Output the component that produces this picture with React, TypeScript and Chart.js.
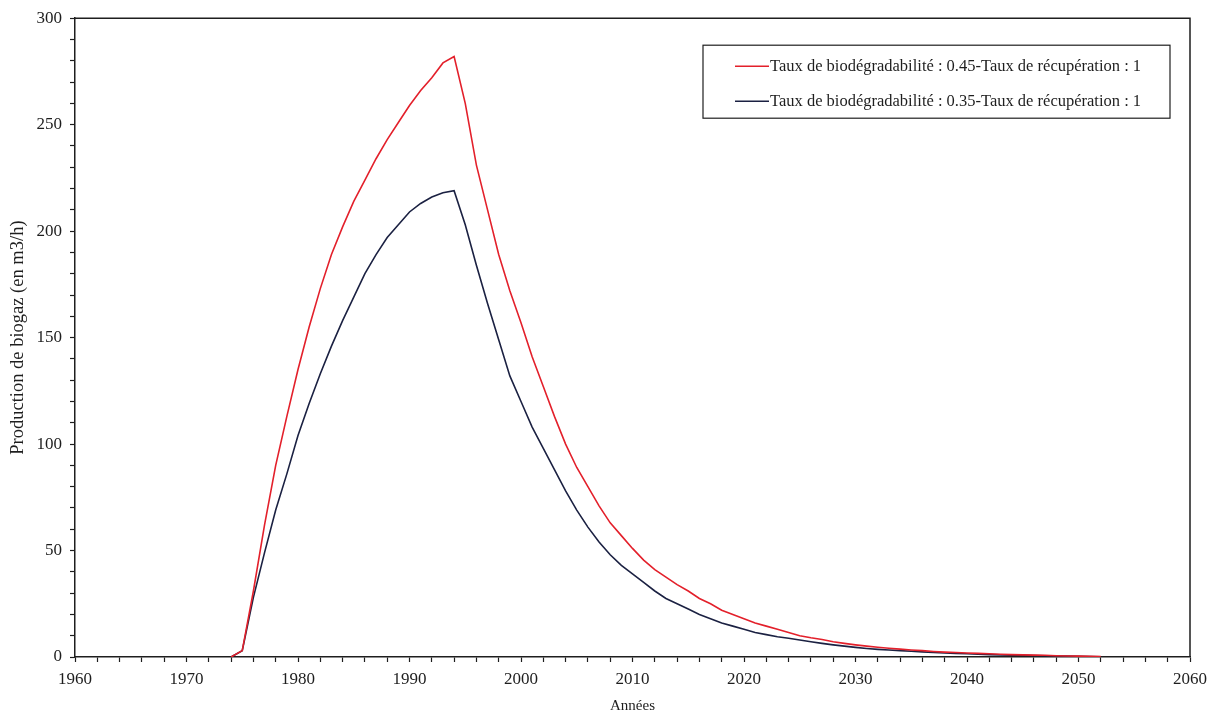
import React, { useEffect, useRef } from "react";
import { Chart, registerables } from "chart.js";

Chart.register(...registerables);

const years = [
  1974, 1975, 1976, 1977, 1978, 1979, 1980, 1981, 1982, 1983, 1984, 1985, 1986, 1987, 1988, 1989,
  1990, 1991, 1992, 1993, 1994, 1995, 1996, 1997, 1998, 1999, 2000, 2001, 2002, 2003, 2004, 2005,
  2006, 2007, 2008, 2009, 2010, 2011, 2012, 2013, 2014, 2015, 2016, 2017, 2018, 2019, 2020, 2021,
  2022, 2023, 2024, 2025, 2026, 2027, 2028, 2029, 2030, 2031, 2032, 2033, 2034, 2035, 2036, 2037,
  2038, 2039, 2040, 2041, 2042, 2043, 2044, 2045, 2046, 2047, 2048, 2049, 2050, 2051, 2052,
];

const labelRed = "Taux de biodégradabilité : 0.45-Taux de récupération : 1";
const labelBlue = "Taux de biodégradabilité : 0.35-Taux de récupération : 1";

const valuesRed = [
  0, 3, 31, 62, 90, 113, 135, 155, 173, 189, 202, 214, 224, 234, 243, 251,
  259, 266, 272, 279, 282, 260, 231, 210, 189, 172, 157, 141, 127, 113, 100, 89,
  80, 71, 63, 57, 51, 45.5, 41, 37.5, 34, 31, 27.5, 25, 22, 20, 18, 16,
  14.5, 13, 11.5, 10, 9, 8.2, 7.2, 6.4, 5.7, 5.1, 4.6, 4.1, 3.7, 3.3, 3.0, 2.6,
  2.3, 2.1, 1.9, 1.7, 1.5, 1.3, 1.1, 1.0, 0.9, 0.8, 0.6, 0.5, 0.4, 0.3, 0.2,
];

const valuesBlue = [
  0, 3, 28, 49, 69, 86, 104, 119, 133, 146, 158, 169, 180, 189, 197, 203,
  209, 213, 216, 218, 219, 203, 184, 166, 149, 132, 120, 108, 98, 88, 78, 69,
  61, 54, 48, 43, 39, 35, 31, 27.5, 25, 22.5, 20, 18, 16, 14.5, 13, 11.5,
  10.5, 9.5, 8.8, 8, 7.2, 6.4, 5.7, 5.1, 4.5, 4.0, 3.6, 3.3, 3.0, 2.7, 2.4, 2.1,
  1.9, 1.7, 1.5, 1.3, 1.1, 1.0, 0.9, 0.8, 0.7, 0.6, 0.5, 0.4, 0.3, 0.2, 0.1,
];

const xAxisTitle = "Années";
const yAxisTitle = "Production de biogaz (en m3/h)";
const xMin = 1960;
const xMax = 2060;
const yMin = 0;
const yMax = 300;

const INK = "#1e1e1e";
const RED = "#e3202b";
const NAVY = "#1b2142";
const FONT = "'Liberation Serif', 'Times New Roman', serif";

const framePlugin = {
  id: "frame",
  afterDraw(chart: any) {
    const { ctx, chartArea } = chart;
    ctx.save();
    ctx.strokeStyle = INK;
    ctx.lineWidth = 1.5;
    ctx.beginPath();
    ctx.moveTo(chartArea.left, chartArea.top);
    ctx.lineTo(chartArea.right, chartArea.top);
    ctx.lineTo(chartArea.right, chartArea.bottom);
    ctx.stroke();
    ctx.restore();
  },
};

const boxLegendPlugin = {
  id: "boxLegend",
  afterDraw(chart: any) {
    const { ctx, chartArea } = chart;
    const right = chartArea.right - 20;
    const top = chartArea.top + 27;
    const width = 467;
    const height = 73;
    const left = right - width;
    ctx.save();
    ctx.fillStyle = "#ffffff";
    ctx.fillRect(left, top, width, height);
    ctx.strokeStyle = INK;
    ctx.lineWidth = 1.2;
    ctx.strokeRect(left, top, width, height);
    ctx.font = `16.5px ${FONT}`;
    ctx.textBaseline = "middle";
    ctx.textAlign = "left";
    chart.data.datasets.forEach((ds: any, i: number) => {
      const y = top + 21 + i * 35;
      ctx.strokeStyle = ds.borderColor;
      ctx.lineWidth = 1.5;
      ctx.beginPath();
      ctx.moveTo(left + 32, y);
      ctx.lineTo(left + 66, y);
      ctx.stroke();
      ctx.fillStyle = INK;
      ctx.fillText(ds.label, left + 67, y);
    });
    ctx.restore();
  },
};

export default function App() {
  const canvasRef = useRef<HTMLCanvasElement | null>(null);

  useEffect(() => {
    if (!canvasRef.current) return;
    const toPoints = (vals: number[]) => years.map((yr, i) => ({ x: yr, y: vals[i] }));
    const chart = new Chart(canvasRef.current, {
      type: "line",
      data: {
        datasets: [
          {
            label: labelRed,
            data: toPoints(valuesRed),
            borderColor: RED,
            borderWidth: 1.6,
            pointRadius: 0,
            tension: 0,
            fill: false,
          },
          {
            label: labelBlue,
            data: toPoints(valuesBlue),
            borderColor: NAVY,
            borderWidth: 1.6,
            pointRadius: 0,
            tension: 0,
            fill: false,
          },
        ],
      },
      options: {
        animation: false,
        responsive: true,
        maintainAspectRatio: false,
        layout: { padding: { left: 0, top: 18, right: 31, bottom: 0 } },
        plugins: {
          legend: { display: false },
          tooltip: { enabled: false },
        },
        scales: {
          x: {
            type: "linear",
            min: xMin,
            max: xMax,
            afterFit: (scale: any) => {
              scale.height = 63;
            },
            border: { display: true, color: INK, width: 1.5 },
            grid: {
              display: true,
              drawOnChartArea: false,
              drawTicks: true,
              tickLength: 5,
              tickColor: INK,
              tickWidth: 1.2,
            },
            ticks: {
              stepSize: 2,
              autoSkip: false,
              maxRotation: 0,
              color: INK,
              padding: 7,
              font: { family: FONT, size: 17 },
              callback: (v: any) => (Number(v) % 10 === 0 ? String(v) : ""),
            },
            title: {
              display: true,
              text: xAxisTitle,
              color: INK,
              font: { family: FONT, size: 15 },
              padding: { top: 0, bottom: 5 },
            },
          },
          y: {
            type: "linear",
            min: yMin,
            max: yMax,
            afterFit: (scale: any) => {
              scale.width = 75;
            },
            border: { display: true, color: INK, width: 1.5 },
            grid: {
              display: true,
              drawOnChartArea: false,
              drawTicks: true,
              tickLength: 5,
              tickColor: INK,
              tickWidth: 1.2,
            },
            ticks: {
              stepSize: 10,
              autoSkip: false,
              color: INK,
              padding: 8,
              font: { family: FONT, size: 17 },
              callback: (v: any) => (Number(v) % 50 === 0 ? String(v) : ""),
            },
            title: {
              display: true,
              text: yAxisTitle,
              color: INK,
              font: { family: FONT, size: 18.5 },
              padding: { top: 7, bottom: 0 },
            },
          },
        },
      },
      plugins: [framePlugin, boxLegendPlugin],
    });
    return () => chart.destroy();
  }, []);

  return (
    <div style={{ position: "absolute", left: 0, top: 0, width: 1221, height: 720, background: "#fff" }}>
      <canvas ref={canvasRef} />
    </div>
  );
}
